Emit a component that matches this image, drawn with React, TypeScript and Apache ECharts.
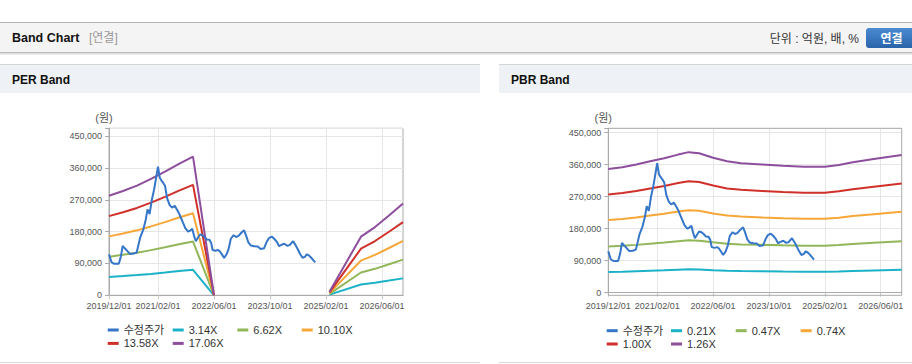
import React, { useEffect, useRef } from 'react';
import * as echarts from 'echarts';

// ---------- axis data ----------
const xTickLabels = ['2019/12/01', '2021/02/01', '2022/06/01', '2023/10/01', '2025/02/01', '2026/06/01'];
const firstYear = 2019;
const firstMonth = 12;
const monthCount = 84; // 2019/12 .. 2026/12
const categories: string[] = [];
for (let i = 0; i <= monthCount; i++) {
  const t = firstMonth - 1 + i;
  const y = firstYear + Math.floor(t / 12);
  const mo = (t % 12) + 1;
  categories.push(`${y}/${mo < 10 ? '0' + mo : mo}/01`);
}
const yStep = 90000;
const perYMax = 472500;
const pbrYMax = 462000;

// ---------- price (months since 2019/12/01) ----------
const priceName = '수정주가';
const priceMonths = [
  0, 0.7, 1.5, 2.8, 3.4, 3.9, 4.5, 5.0, 6.0, 7.0, 7.9, 8.9, 9.8, 10.5, 11.0, 11.6, 12.2, 12.9, 13.5, 14.0,
  14.5, 14.9, 15.5, 16.0, 16.6, 17.3, 18.0, 18.8, 19.4, 20.0, 20.6, 21.2, 21.8, 22.6, 23.2, 23.8, 24.3, 24.8,
  25.4, 26.0, 26.7, 27.3, 27.9, 28.7, 29.2, 29.6, 30.4, 31.2, 31.7, 32.3, 32.9, 33.6, 34.2, 34.8, 35.6, 36.3,
  37.0, 37.8, 38.6, 39.2, 39.8, 40.5, 41.5, 42.5, 43.3, 44.3, 45.0, 45.7, 46.5, 47.2, 47.9, 48.6, 49.3, 50.1,
  50.9, 51.6, 52.6, 53.3, 53.9, 54.6, 55.3, 56.0, 56.5, 57.1, 57.7, 58.3, 58.9,
];
const priceValues = [
  116000, 94000, 89000, 89000, 110000, 140000, 133000, 128000, 117000, 118000, 121000, 163000, 186000, 214000,
  243000, 230000, 268000, 300000, 335000, 364000, 333000, 326000, 318000, 310000, 275000, 256000, 248000,
  253000, 243000, 232000, 218000, 204000, 190000, 180000, 183000, 188000, 168000, 153000, 163000, 172000,
  170000, 165000, 158000, 157000, 148000, 128000, 126000, 128000, 124000, 115000, 106000, 116000, 132000,
  160000, 170000, 165000, 168000, 177000, 184000, 168000, 150000, 141000, 139000, 138000, 131000, 133000,
  150000, 162000, 166000, 160000, 152000, 139000, 143000, 146000, 140000, 142000, 153000, 142000, 131000,
  117000, 106000, 109000, 116000, 113000, 107000, 100000, 93000,
];

// ---------- PER band ----------
const perNames = ['3.14X', '6.62X', '10.10X', '13.58X', '17.06X'];
const perMonths = [0, 4, 8, 12, 16, 20, 24, 30, 46, 63, 72, 76, 80, 84];
const per314 = [51800, 54300, 57100, 60600, 64400, 68500, 72200, 0, null, 1900, 30600, 35500, 41600, 47900];
const per662 = [109200, 114500, 120500, 127800, 135700, 144300, 152300, 0, null, 4000, 64400, 74900, 87700, 100900];
const per1010 = [166700, 174700, 183800, 194900, 207100, 220200, 232300, 0, null, 6100, 98300, 114200, 133800, 153900];
const per1358 = [224100, 234900, 247200, 262100, 278400, 296000, 312300, 0, null, 8100, 132100, 153600, 179900, 207000];
const per1706 = [281500, 295100, 310500, 329300, 349700, 371900, 392400, 0, null, 10200, 166000, 193000, 226000, 260000];

// ---------- PBR band ----------
const pbrNames = ['0.21X', '0.47X', '0.74X', '1.00X', '1.26X'];
const pbrMonths = [0, 4, 8, 12, 16, 20, 23, 26, 30, 34, 38, 44, 50, 56, 62, 66, 70, 76, 84];
const pbr021 = [58000, 58800, 60100, 61500, 63000, 64700, 65800, 65300, 63200, 61500, 60700, 60100, 59400, 59000, 59000, 59900, 61100, 62600, 64500];
const pbr047 = [129700, 131600, 134400, 137700, 141000, 144800, 147300, 146200, 141500, 137700, 135800, 134400, 133000, 132100, 132100, 134000, 136800, 140100, 144300];
const pbr074 = [204200, 207200, 211600, 216800, 222000, 227900, 232000, 230100, 222700, 216800, 213900, 211600, 209400, 207900, 207900, 210900, 215300, 220500, 227200];
const pbr100 = [276000, 280000, 286000, 293000, 300000, 308000, 313500, 311000, 301000, 293000, 289000, 286000, 283000, 281000, 281000, 285000, 291000, 298000, 307000];
const pbr126 = [347800, 352800, 360400, 369200, 378000, 388100, 395000, 391900, 379300, 369200, 364100, 360400, 356600, 354100, 354100, 359100, 366700, 375500, 386800];

// ---------- styles ----------
const priceColor = '#3676c8';
const bandColors = ['#1bb2c8', '#92b65a', '#f7a738', '#d0302a', '#8e4e9e'];
const FONT = "'Liberation Sans', Arial, 'Noto Sans CJK KR', sans-serif";
const gridLine = '#e6e6e6';
const axisColor = '#aaaaaa';
const labelColor = '#555555';

const tickSet = new Set(xTickLabels);
const showAt = (_i: number, v: string) => tickSet.has(v);

function makeXAxes(gridIndex: number, offset: number) {
  return [
    {
      type: 'category',
      gridIndex,
      data: categories,
      boundaryGap: false,
      offset,
      axisLine: { show: true, lineStyle: { color: axisColor } },
      axisTick: { show: true, interval: showAt, length: 4, lineStyle: { color: '#c8c8c8' } },
      axisLabel: { interval: showAt, fontSize: 9, color: labelColor, margin: 6, fontFamily: FONT },
      splitLine: { show: true, interval: showAt, lineStyle: { color: gridLine } },
    },
    { type: 'value', gridIndex, min: 0, max: monthCount, show: false },
  ];
}

function makeYAxis(gridIndex: number, max: number) {
  return {
    type: 'value',
    gridIndex,
    min: 0,
    max,
    interval: yStep,
    axisLine: { show: true, lineStyle: { color: axisColor } },
    axisTick: { show: true, length: 4, lineStyle: { color: axisColor } },
    axisLabel: {
      fontSize: 9,
      color: labelColor,
      margin: 7,
      fontFamily: FONT,
      formatter: (v: number) => (v % yStep === 0 ? v.toLocaleString('en-US') : ''),
    },
    splitLine: { show: true, lineStyle: { color: gridLine } },
  };
}

function lineSeries(name: string, color: string, xs: number[], ys: (number | null)[], xAxisIndex: number, yAxisIndex: number, z = 2) {
  return {
    name,
    type: 'line',
    xAxisIndex,
    yAxisIndex,
    data: xs.map((m, j) => [m, ys[j]]),
    symbol: 'none',
    showSymbol: false,
    connectNulls: false,
    z,
    lineStyle: { width: 2, color },
    itemStyle: { color },
  };
}

function legendItem(name: string, left: number, rowY: number) {
  return {
    data: [name],
    left,
    top: rowY - 5.5,
    padding: 0,
    itemWidth: 11,
    itemHeight: 3,
    icon: 'rect',
    selectedMode: false,
    textStyle: { fontSize: 11, color: '#333', fontFamily: FONT },
  };
}

function txt(text: string, x: number, y: number, font: string, fill: string, align = 'left') {
  return { type: 'text', x, y, style: { text, font, fill, align, verticalAlign: 'middle' } };
}

export default function App() {
  const ref = useRef<HTMLDivElement>(null);
  useEffect(() => {
    if (!ref.current) return;
    const chart = echarts.init(ref.current, undefined, { renderer: 'svg' });
    const perSeriesVals = [per314, per662, per1010, per1358, per1706];
    const pbrSeriesVals = [pbr021, pbr047, pbr074, pbr100, pbr126];
    const option: any = {
      animation: false,
      backgroundColor: '#ffffff',
      grid: [
        { left: 109, top: 128.3, width: 294, height: 167, show: true, borderColor: axisColor, borderWidth: 1, backgroundColor: 'transparent' },
        { left: 608.3, top: 128.3, width: 293.4, height: 164.4, show: false },
      ],
      xAxis: [...makeXAxes(0, 0), ...makeXAxes(1, 2.6)],
      yAxis: [makeYAxis(0, perYMax), makeYAxis(1, pbrYMax)],
      legend: [
        legendItem(priceName, 107.7, 330),
        legendItem(perNames[0], 172.7, 330),
        legendItem(perNames[1], 237.3, 330),
        legendItem(perNames[2], 301.7, 330),
        legendItem(perNames[3], 107.7, 343.4),
        legendItem(perNames[4], 172.7, 343.4),
        legendItem(priceName, 606.7, 330.7),
        legendItem(pbrNames[0], 671, 330.7),
        legendItem(pbrNames[1], 735.7, 330.7),
        legendItem(pbrNames[2], 800.7, 330.7),
        legendItem(pbrNames[3], 606.7, 344),
        legendItem(pbrNames[4], 671, 344),
      ],
      graphic: [
        // page header
        { type: 'rect', shape: { x: 0, y: 22, width: 912, height: 1 }, style: { fill: '#b4b4b4' }, z: -10 },
        { type: 'rect', shape: { x: 0, y: 23, width: 912, height: 29 }, style: { fill: '#f4f4f4' }, z: -10 },
        { type: 'rect', shape: { x: 0, y: 52, width: 912, height: 1 }, style: { fill: '#bcbcbc' }, z: -10 },
        { type: 'rect', shape: { x: 0, y: 53, width: 912, height: 1 }, style: { fill: '#dcdcdc' }, z: -10 },
        { type: 'rect', shape: { x: 0, y: 54, width: 912, height: 1 }, style: { fill: '#efefef' }, z: -10 },
        txt('Band Chart', 12, 38, `bold 12.5px ${FONT}`, '#111'),
        txt('[연결]', 89, 38, `12px ${FONT}`, '#999'),
        txt('단위 : 억원, 배, %', 859, 39, `12px ${FONT}`, '#333', 'right'),
        {
          type: 'rect',
          shape: { x: 866, y: 28, width: 52, height: 20, r: 3 },
          style: {
            fill: new echarts.graphic.LinearGradient(0, 0, 0, 1, [
              { offset: 0, color: '#4b8bd2' },
              { offset: 1, color: '#2a64a9' },
            ]),
          },
        },
        txt('연결', 891.5, 38.5, `bold 12px ${FONT}`, '#ffffff', 'center'),
        // panels
        { type: 'rect', shape: { x: 0, y: 64, width: 480, height: 1 }, style: { fill: '#d4d4d4' }, z: -10 },
        { type: 'rect', shape: { x: 0, y: 65, width: 480, height: 28 }, style: { fill: '#eef1f6' }, z: -10 },
        { type: 'rect', shape: { x: 499, y: 64, width: 413, height: 1 }, style: { fill: '#d4d4d4' }, z: -10 },
        { type: 'rect', shape: { x: 499, y: 65, width: 413, height: 28 }, style: { fill: '#eef1f6' }, z: -10 },
        { type: 'rect', shape: { x: 0, y: 362, width: 480, height: 1 }, style: { fill: '#d8d8d8' }, z: -10 },
        { type: 'rect', shape: { x: 499, y: 362, width: 413, height: 1 }, style: { fill: '#d8d8d8' }, z: -10 },
        txt('PER Band', 12, 80, `bold 12px ${FONT}`, '#111'),
        txt('PBR Band', 511, 80, `bold 12px ${FONT}`, '#111'),
        txt('(원)', 104, 118, `11px ${FONT}`, '#555', 'center'),
        txt('(원)', 603.3, 118, `11px ${FONT}`, '#555', 'center'),
        // PBR plot frame
        {
          type: 'rect',
          shape: { x: 608.3, y: 128.3, width: 293.4, height: 167 },
          style: { fill: 'none', stroke: axisColor, lineWidth: 1 },
          z: 1,
        },
      ],
      series: [
        ...perNames.map((n, k) => lineSeries(n, bandColors[k], perMonths, perSeriesVals[k], 1, 0)),
        lineSeries(priceName, priceColor, priceMonths, priceValues, 1, 0, 3),
        ...pbrNames.map((n, k) => lineSeries(n, bandColors[k], pbrMonths, pbrSeriesVals[k], 3, 1)),
        lineSeries(priceName, priceColor, priceMonths, priceValues, 3, 1, 3),
      ],
    };
    chart.setOption(option);
    return () => chart.dispose();
  }, []);
  return <div ref={ref} style={{ position: 'absolute', left: 0, top: 0, width: 912, height: 364 }} />;
}
